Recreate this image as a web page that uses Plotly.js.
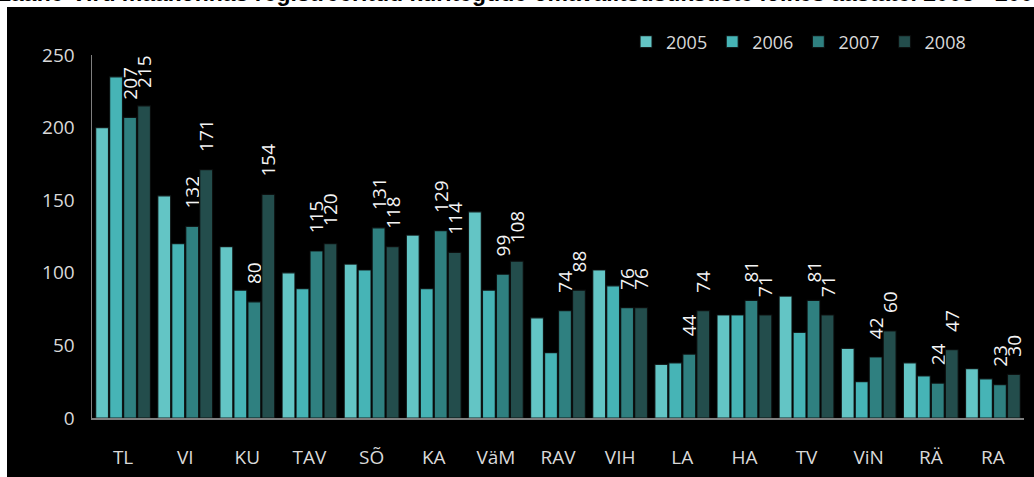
<!DOCTYPE html>
<html><head><meta charset="utf-8">
<script src="https://cdn.plot.ly/plotly-3.0.1.min.js"></script>
<style>html,body{margin:0;padding:0;background:#fff;}#chart{width:1034px;height:477px;}</style>
</head><body><div id="chart"></div>
<script>
const categories = ["TL","VI","KU","TAV","SÕ","KA","VäM","RAV","VIH","LA","HA","TV","ViN","RÄ","RA"];
const years = ["2005","2006","2007","2008"];
const v2005 = [200,153,118,100,106,126,142,69,102,37,71,84,48,38,34];
const v2006 = [235,120,88,89,102,89,88,45,91,38,71,59,25,29,27];
const v2007 = [207,132,80,115,131,129,99,74,76,44,81,81,42,24,23];
const v2008 = [215,171,154,120,118,114,108,88,76,74,71,71,60,47,30];
const colors = ["#63c5c5","#46b4b6","#2f8080","#234d4c"];
const showLabels = [false,false,true,true];
const titleText = "Lääne-Viru maakonnas registreeritud kuritegude omavalitsusüksuste lõikes aastatel 2005 - 2008";

const series = [v2005,v2006,v2007,v2008];
const traces = series.map((vals,i)=>({
  type:"bar", name:years[i], x:categories, y:vals,
  marker:{color:colors[i], line:{color:"rgba(10,10,10,0.85)", width:1.2}},
  text: showLabels[i] ? vals.map(String) : undefined,
  texttemplate: showLabels[i] ? "\u00a0\u00a0\u00a0%{text}" : undefined,
  textposition: showLabels[i] ? "outside" : "none",
  textangle:-90, constraintext:"none", cliponaxis:false,
  textfont:{family:"Open Sans, sans-serif", size:19, color:"#f4f4f4"},
  hoverinfo:"x+y+name"
}));

const layout = {
  width:1034, height:477,
  margin:{l:92, r:10, t:55, b:59},
  paper_bgcolor:"#ffffff", plot_bgcolor:"rgba(0,0,0,0)",
  barmode:"group", bargap:0.1, bargroupgap:0.08,
  font:{family:"Open Sans, sans-serif", color:"#d9d9d9", size:18},
  showlegend:true,
  legend:{orientation:"h", x:0.573, xanchor:"left", y:1.036, yanchor:"middle",
    font:{size:18, color:"#d9d9d9"}, bgcolor:"rgba(0,0,0,0)", traceorder:"normal"},
  xaxis:{type:"category", showline:true, linecolor:"#7f7f7f", linewidth:1.5,
    ticks:"", showgrid:false, zeroline:false, ticklabelstandoff:22,
    tickfont:{size:19, color:"#d9d9d9"}},
  yaxis:{range:[0,250], tickvals:[0,50,100,150,200,250], showline:true,
    linecolor:"#7f7f7f", linewidth:1.5, ticks:"", showgrid:false, zeroline:false,
    ticklabelstandoff:12, tickfont:{size:19, color:"#d9d9d9"}},
  shapes:[{type:"rect", xref:"paper", yref:"paper", x0:-0.0912, x1:1.05, y0:-0.3, y1:1.1322,
    fillcolor:"#000000", line:{width:0}, layer:"below"}],
  annotations:[{xref:"paper", yref:"paper", x:1.0258, y:1.1285, xanchor:"right", yanchor:"bottom",
    text:"<b>"+titleText+"</b>", showarrow:false,
    font:{family:"Liberation Sans, Arial, sans-serif", size:23, color:"#000000"}}]
};
Plotly.newPlot("chart", traces, layout, {displayModeBar:false, staticPlot:true});
</script></body></html>
